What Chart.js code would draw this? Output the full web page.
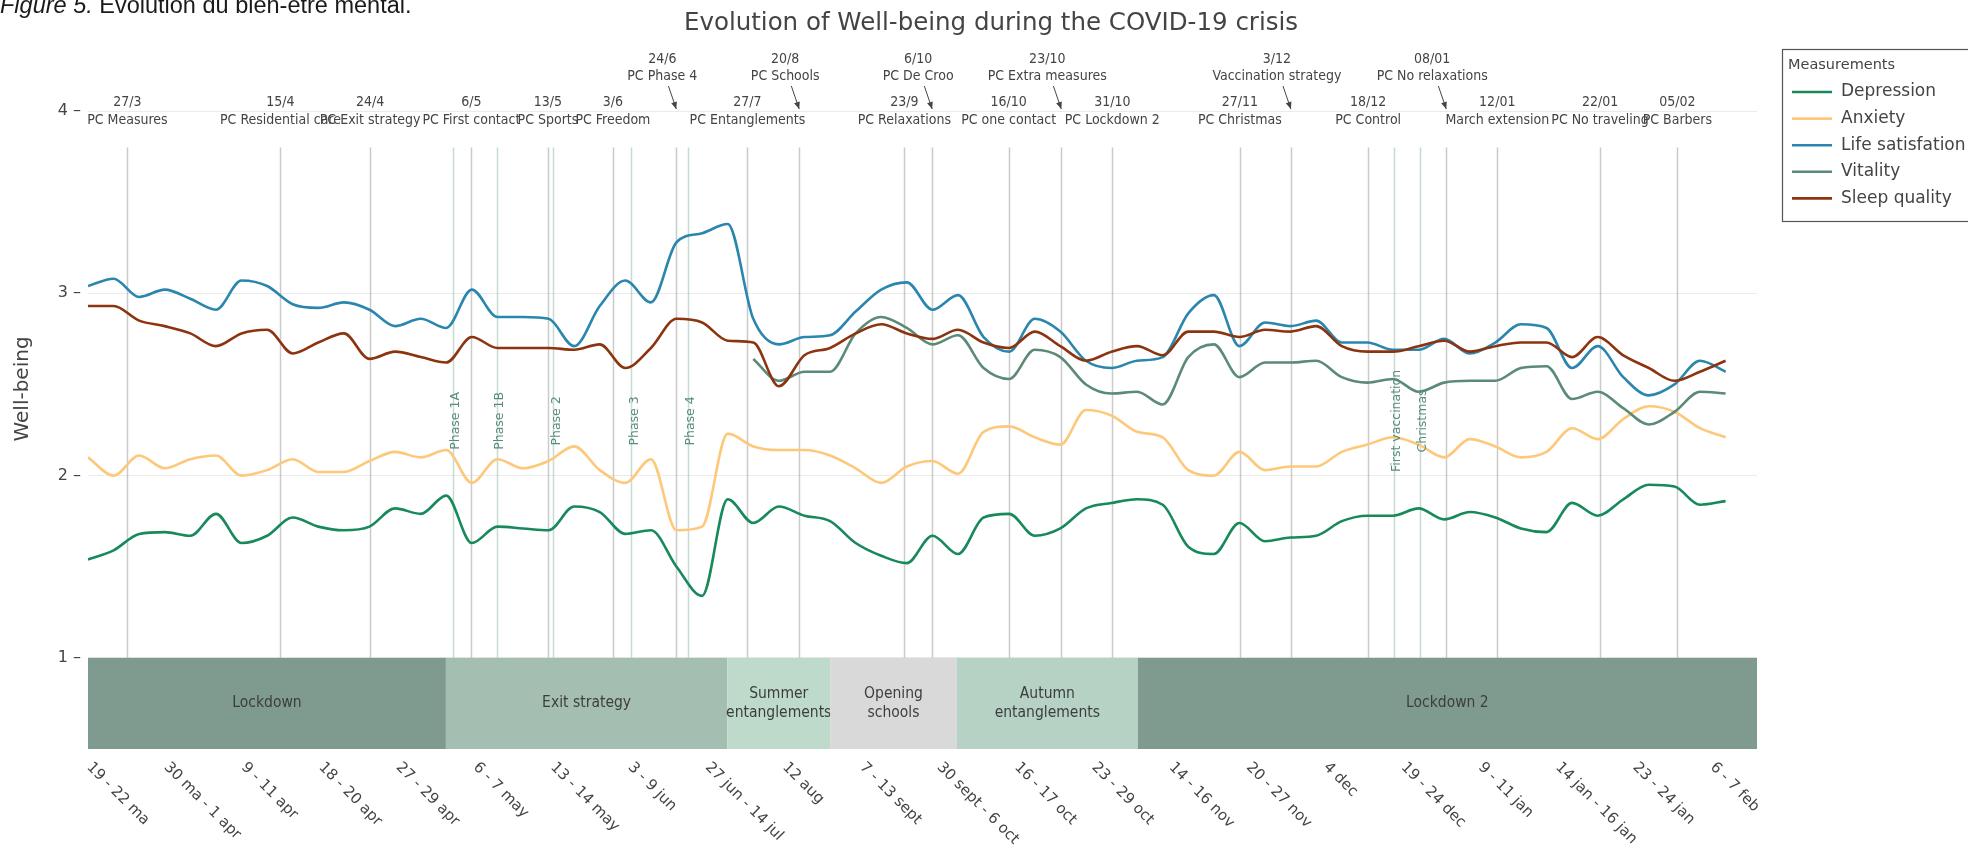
<!DOCTYPE html>
<html>
<head>
<meta charset="utf-8">
<script src="https://cdn.jsdelivr.net/npm/chart.js@4.4.1/dist/chart.umd.min.js"></script>
<style>
  html, body { margin: 0; padding: 0; background: #fff; }
</style>
</head>
<body>
<canvas id="myChart" width="1968" height="849"></canvas>
<script>
// survey waves (tick labels on the x axis, one per wave index)
const waves = ['19 - 22 ma', '30 ma - 1 apr', '9 - 11 apr', '18 - 20 apr', '27 - 29 apr', '6 - 7 may',
  '13 - 14 may', '3 - 9 jun', '27 jun - 14 jul', '12 aug', '7 - 13 sept', '30 sept - 6 oct',
  '16 - 17 oct', '23 - 29 oct', '14 - 16 nov', '20 - 27 nov', '4 dec', '19 - 24 dec',
  '9 - 11 jan', '14 jan - 16 jan', '23 - 24 jan', '6 - 7 feb'];

// measurements, read every third of a wave
const depression = [1.54, 1.59, 1.68, 1.69, 1.67, 1.79, 1.63, 1.67, 1.77, 1.72, 1.70, 1.72, 1.82, 1.79, 1.89, 1.63,
  1.72, 1.71, 1.70, 1.83, 1.80, 1.68, 1.70, 1.50, 1.34, 1.87, 1.74, 1.83, 1.78, 1.75, 1.63, 1.56, 1.52, 1.67, 1.57,
  1.77, 1.79, 1.67, 1.71, 1.82, 1.85, 1.87, 1.84, 1.61, 1.57, 1.74, 1.64, 1.66, 1.67, 1.75, 1.78, 1.78, 1.82, 1.76,
  1.80, 1.77, 1.71, 1.69, 1.85, 1.78, 1.87, 1.95, 1.94, 1.84, 1.86];
const anxiety = [2.10, 2.00, 2.11, 2.04, 2.09, 2.11, 2.00, 2.03, 2.09, 2.02, 2.02, 2.08, 2.13, 2.10, 2.14, 1.96,
  2.09, 2.04, 2.08, 2.16, 2.03, 1.96, 2.09, 1.70, 1.72, 2.23, 2.16, 2.14, 2.14, 2.11, 2.04, 1.96, 2.05, 2.08, 2.01,
  2.24, 2.27, 2.21, 2.17, 2.36, 2.33, 2.24, 2.21, 2.03, 2.00, 2.13, 2.03, 2.05, 2.05, 2.13, 2.17, 2.21, 2.17, 2.10,
  2.20, 2.16, 2.10, 2.13, 2.26, 2.20, 2.31, 2.38, 2.35, 2.26, 2.21];
const lifeSatisfaction = [3.04, 3.08, 2.98, 3.02, 2.97, 2.91, 3.07, 3.04, 2.94, 2.92, 2.95, 2.91, 2.82, 2.86, 2.81,
  3.02, 2.87, 2.87, 2.86, 2.71, 2.93, 3.07, 2.95, 3.28, 3.33, 3.38, 2.86, 2.72, 2.76, 2.77, 2.90, 3.02, 3.06, 2.91,
  2.99, 2.76, 2.68, 2.86, 2.79, 2.63, 2.59, 2.63, 2.65, 2.89, 2.99, 2.71, 2.84, 2.82, 2.85, 2.73, 2.73, 2.69, 2.69,
  2.75, 2.67, 2.73, 2.83, 2.81, 2.59, 2.71, 2.54, 2.44, 2.50, 2.63, 2.57];
const vitalityFrom = 26; // vitality was only asked from the summer on
const vitality = [2.64, 2.52, 2.57, 2.57, 2.78, 2.87, 2.81, 2.72, 2.77, 2.59, 2.53, 2.69, 2.65, 2.50, 2.45, 2.46,
  2.39, 2.65, 2.72, 2.54, 2.62, 2.62, 2.63, 2.54, 2.51, 2.53, 2.46, 2.51, 2.52, 2.52, 2.59, 2.60, 2.42, 2.46, 2.37,
  2.28, 2.35, 2.46, 2.45];
const sleepQuality = [2.93, 2.93, 2.85, 2.82, 2.78, 2.71, 2.78, 2.80, 2.67, 2.73, 2.78, 2.64, 2.68, 2.65, 2.62,
  2.76, 2.70, 2.70, 2.70, 2.69, 2.72, 2.59, 2.70, 2.86, 2.84, 2.74, 2.73, 2.49, 2.66, 2.70, 2.78, 2.83, 2.78, 2.75,
  2.80, 2.73, 2.70, 2.79, 2.71, 2.63, 2.68, 2.71, 2.66, 2.79, 2.79, 2.76, 2.80, 2.79, 2.82, 2.71, 2.68, 2.68, 2.71,
  2.74, 2.68, 2.71, 2.73, 2.73, 2.65, 2.76, 2.66, 2.59, 2.52, 2.57, 2.63];

// press conferences and other events (x in wave units)
const eventAt = [0.51, 2.49, 3.65, 4.96, 5.95, 6.79, 7.61, 8.53, 9.20, 10.56, 10.92, 11.91, 12.59, 13.25,
  14.90, 15.56, 16.56, 17.57, 18.23, 19.56, 20.56];
const eventDate = ['27/3', '15/4', '24/4', '6/5', '13/5', '3/6', '24/6', '27/7', '20/8', '23/9', '6/10', '16/10',
  '23/10', '31/10', '27/11', '3/12', '18/12', '08/01', '12/01', '22/01', '05/02'];
const eventName = ['PC Measures', 'PC Residential care', 'PC Exit strategy', 'PC First contact', 'PC Sports',
  'PC Freedom', 'PC Phase 4', 'PC Entanglements', 'PC Schools', 'PC Relaxations', 'PC De Croo', 'PC one contact',
  'PC Extra measures', 'PC Lockdown 2', 'PC Christmas', 'Vaccination strategy', 'PC Control', 'PC No relaxations',
  'March extension', 'PC No traveling', 'PC Barbers'];
const raisedEvents = ['24/6', '20/8', '6/10', '23/10', '3/12', '08/01'];

const milestoneName = ['Phase 1A', 'Phase 1B', 'Phase 2', 'Phase 3', 'Phase 4', 'First vaccination', 'Christmas'];
const milestoneAt = [4.72, 5.29, 6.02, 7.03, 7.76, 16.89, 17.23];

const periodName = ['Lockdown', 'Exit strategy', 'Summer\nentanglements', 'Opening\nschools',
  'Autumn\nentanglements', 'Lockdown 2'];
const periodEnd = [4.63, 8.27, 9.60, 11.24, 13.58, 21.59];
const periodColor = ['#7f9b8f', '#a4bfb2', '#bddacb', '#d9d9d9', '#b5d2c4', '#7f9b8f'];

const STEP = 0.331;
const SANS = '"DejaVu Sans", Verdana, sans-serif';
const COND = '"DejaVu Sans Condensed", "DejaVu Sans", sans-serif';

function pts(values, from) {
  return values.map((v, i) => ({ x: (i + (from || 0)) * STEP, y: v }));
}

const overlay = {
  id: 'overlay',
  beforeDatasetsDraw(chart) {
    const { ctx, scales: { x, y } } = chart;
    const yTop = y.getPixelForValue(1), yBot = y.getPixelForValue(0.5);
    const lineTop = y.getPixelForValue(3.8);
    ctx.save();
    // event lines
    ctx.lineWidth = 1.5;
    ctx.strokeStyle = 'rgba(150,150,150,0.5)';
    eventAt.forEach(v => {
      const px = Math.round(x.getPixelForValue(v)) + 0.5;
      ctx.beginPath(); ctx.moveTo(px, lineTop); ctx.lineTo(px, yTop); ctx.stroke();
    });
    ctx.strokeStyle = 'rgba(130,175,160,0.45)';
    milestoneAt.forEach(v => {
      const px = Math.round(x.getPixelForValue(v)) + 0.5;
      ctx.beginPath(); ctx.moveTo(px, lineTop); ctx.lineTo(px, yTop); ctx.stroke();
    });
    // period bands
    let start = x.min;
    periodName.forEach((name, i) => {
      const x0 = x.getPixelForValue(start), x1 = x.getPixelForValue(periodEnd[i]);
      ctx.fillStyle = periodColor[i];
      ctx.fillRect(x0, yTop, x1 - x0, yBot - yTop);
      ctx.fillStyle = '#3d3d3d';
      ctx.font = '15.5px ' + COND;
      ctx.textAlign = 'center';
      ctx.textBaseline = 'middle';
      const lines = name.split('\n');
      const cy = (yTop + yBot) / 2;
      lines.forEach((t, j) => ctx.fillText(t, (x0 + x1) / 2, cy + (j - (lines.length - 1) / 2) * 19));
      start = periodEnd[i];
    });
    ctx.restore();
  },
  afterDatasetsDraw(chart) {
    const { ctx, scales: { x, y } } = chart;
    ctx.save();
    // milestone labels
    ctx.fillStyle = '#5a8d77';
    ctx.font = '12.5px ' + SANS;
    ctx.textAlign = 'center';
    ctx.textBaseline = 'middle';
    const my = y.getPixelForValue(2.3);
    milestoneAt.forEach((v, i) => {
      ctx.save();
      ctx.translate(x.getPixelForValue(v) + 3, my);
      ctx.rotate(-Math.PI / 2);
      ctx.fillText(milestoneName[i], 0, 0);
      ctx.restore();
    });
    // event annotations
    ctx.fillStyle = '#444';
    ctx.strokeStyle = '#444';
    ctx.font = '14px ' + COND;
    const y4 = y.getPixelForValue(4);
    eventAt.forEach((v, i) => {
      const px = x.getPixelForValue(v);
      if (raisedEvents.includes(eventDate[i])) {
        const cx = px - 14;
        ctx.fillText(eventDate[i], cx, y4 - 52);
        ctx.fillText(eventName[i], cx, y4 - 35);
        const tipY = y4 - 2, sy = y4 - 25;
        const sx = cx + (px - cx) * (sy - (y4 - 43)) / (tipY - (y4 - 43));
        ctx.lineWidth = 1;
        ctx.beginPath(); ctx.moveTo(sx, sy); ctx.lineTo(px, tipY); ctx.stroke();
        const ang = Math.atan2(tipY - sy, px - sx);
        ctx.beginPath();
        ctx.moveTo(px, tipY);
        ctx.lineTo(px - 7 * Math.cos(ang) + 3 * Math.sin(ang), tipY - 7 * Math.sin(ang) - 3 * Math.cos(ang));
        ctx.lineTo(px - 7 * Math.cos(ang) - 3 * Math.sin(ang), tipY - 7 * Math.sin(ang) + 3 * Math.cos(ang));
        ctx.closePath(); ctx.fill();
      } else {
        ctx.fillText(eventDate[i], px, y4 - 9);
        ctx.fillText(eventName[i], px, y4 + 9);
      }
    });
    ctx.restore();
  },
  afterDraw(chart) {
    const { ctx, scales: { x, y } } = chart;
    ctx.save();
    // x tick labels, rotated down to the right
    ctx.fillStyle = '#444';
    ctx.font = '15px ' + SANS;
    ctx.textAlign = 'left';
    ctx.textBaseline = 'middle';
    const ly = y.getPixelForValue(0.5) + 16;
    waves.forEach((w, i) => {
      ctx.save();
      ctx.translate(x.getPixelForValue(i) + 1, ly);
      ctx.rotate(Math.PI / 4);
      ctx.fillText(w, 0, 0);
      ctx.restore();
    });
    // title
    ctx.font = '24.5px ' + SANS;
    ctx.textAlign = 'center';
    ctx.textBaseline = 'middle';
    ctx.fillText('Evolution of Well-being during the COVID-19 crisis', 991, 24);
    // caption
    ctx.fillStyle = '#1a1a1a';
    ctx.textAlign = 'left';
    ctx.textBaseline = 'alphabetic';
    ctx.font = 'italic 23.5px "Liberation Sans", Arial, sans-serif';
    ctx.fillText('Figure 5.', 0, 13);
    const w0 = ctx.measureText('Figure 5.').width;
    ctx.font = '23.5px "Liberation Sans", Arial, sans-serif';
    ctx.fillText(' Evolution du bien-être mental.', w0, 13);
    // legend
    ctx.fillStyle = '#fff';
    ctx.fillRect(1782, 49, 200, 173);
    ctx.strokeStyle = '#555';
    ctx.lineWidth = 1.2;
    ctx.strokeRect(1782.5, 49.5, 200, 172);
    ctx.fillStyle = '#444';
    ctx.textBaseline = 'middle';
    ctx.font = '14.5px ' + SANS;
    ctx.fillText('Measurements', 1788, 65);
    ctx.font = '17px ' + SANS;
    chart.data.datasets.forEach((ds, i) => {
      const cy = 92 + i * 26.6;
      ctx.strokeStyle = ds.borderColor;
      ctx.lineWidth = 2.6;
      ctx.beginPath(); ctx.moveTo(1792, cy); ctx.lineTo(1832, cy); ctx.stroke();
      ctx.fillStyle = '#444';
      ctx.fillText(ds.label, 1841, cy);
    });
    ctx.restore();
  }
};

const line = (label, data, color, order) => ({
  label, data, borderColor: color, backgroundColor: color, borderWidth: 2.6,
  pointRadius: 0, cubicInterpolationMode: 'monotone', order
});

new Chart(document.getElementById('myChart'), {
  type: 'line',
  data: {
    datasets: [
      line('Depression', pts(depression), '#17895a', 4),
      line('Anxiety', pts(anxiety), '#fec87a', 3),
      line('Life satisfation', pts(lifeSatisfaction), '#2b86ae', 2),
      line('Vitality', pts(vitality, vitalityFrom), '#5b8b77', 1),
      line('Sleep quality', pts(sleepQuality), '#8c3410', 0)
    ]
  },
  options: {
    responsive: false,
    animation: false,
    layout: { padding: { left: 0, right: 211, top: 29, bottom: 100 } },
    plugins: { legend: { display: false }, tooltip: { enabled: false } },
    scales: {
      x: { type: 'linear', display: false, min: 0, max: 21.59 },
      y: {
        min: 0.5, max: 4.45,
        afterBuildTicks: s => { s.ticks = [1, 2, 3, 4].map(v => ({ value: v })); },
        afterFit: s => { s.width = 88; },
        ticks: { callback: v => v + ' \u2013', color: '#444', font: { family: SANS, size: 16 }, padding: 7 },
        grid: { color: '#ebebeb', drawTicks: false },
        border: { display: false },
        title: { display: true, text: 'Well-being', color: '#444', font: { family: SANS, size: 20 },
          padding: { top: 11, bottom: 0 } }
      }
    }
  },
  plugins: [overlay]
});
</script>
</body>
</html>
